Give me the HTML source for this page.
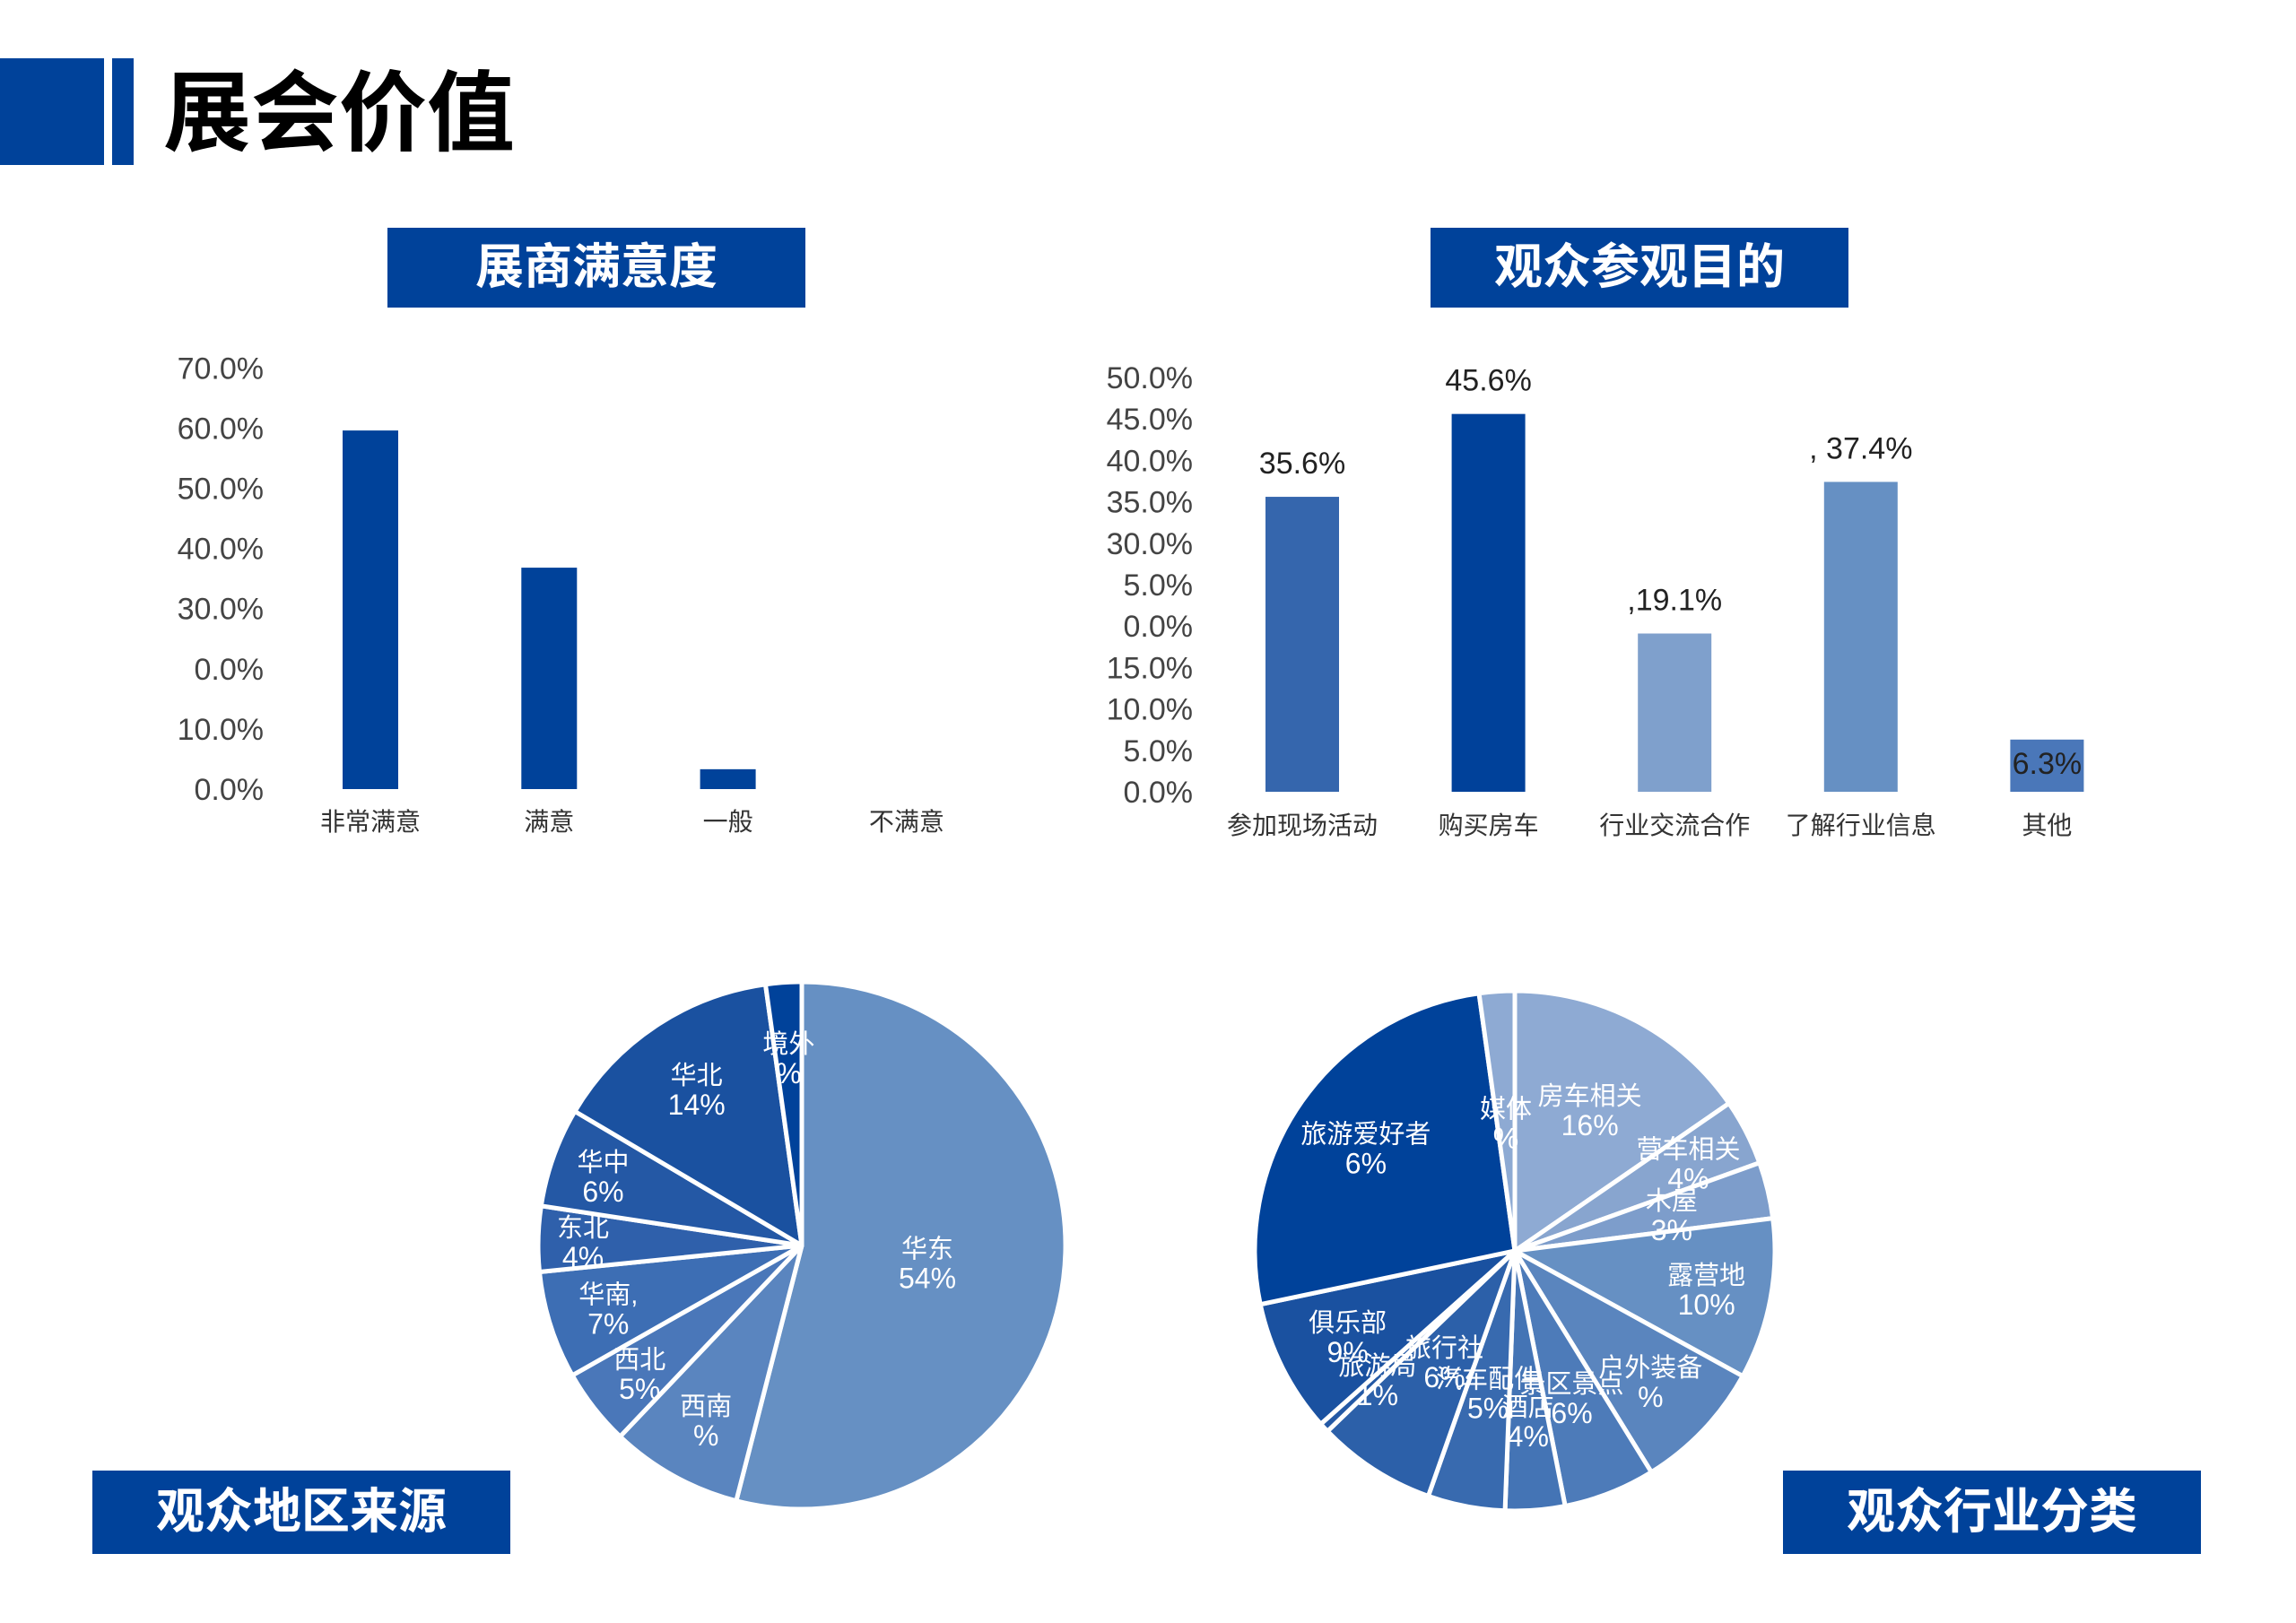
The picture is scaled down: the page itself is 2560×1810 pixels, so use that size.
<!DOCTYPE html>
<html><head><meta charset="utf-8">
<style>
html,body{margin:0;padding:0;background:#fff;}
body{width:2560px;height:1810px;position:relative;overflow:hidden;font-family:"Liberation Sans","Noto Sans CJK SC",sans-serif;}
.box{position:absolute;background:#00429a;color:#fff;font-weight:bold;font-size:54px;text-align:center;font-family:"Liberation Sans","Noto Sans CJK SC",sans-serif;}
svg{position:absolute;left:0;top:0;}
</style></head>
<body>
<div style="position:absolute;left:0;top:65px;width:116px;height:119px;background:#00429a"></div>
<div style="position:absolute;left:125px;top:65px;width:24px;height:119px;background:#00429a"></div>
<div style="position:absolute;left:182px;top:66px;font-size:98px;font-weight:bold;color:#000;line-height:120px;font-family:'Liberation Sans','Noto Sans CJK SC',sans-serif">展会价值</div>
<div class="box" style="left:432px;top:254px;width:466px;height:89px;line-height:89px">展商满意度</div>
<div class="box" style="left:1595px;top:254px;width:466px;height:89px;line-height:89px">观众参观目的</div>
<div class="box" style="left:103px;top:1640px;width:466px;height:93px;line-height:93px">观众地区来源</div>
<div class="box" style="left:1988px;top:1640px;width:466px;height:93px;line-height:93px">观众行业分类</div>
<svg id="chart" width="2560" height="1810"></svg>
<script>
// Chart 1: exhibitor satisfaction
const c1Cats = ["非常满意","满意","一般","不满意"];
const c1Vals = [59.6, 36.8, 3.3, 0];
const c1Ticks = ["0.0%","10.0%","0.0%","30.0%","40.0%","50.0%","60.0%","70.0%"];
const c1TickVals = [0,10,20,30,40,50,60,70];
// Chart 2: visitor purpose
const c2Cats = ["参加现场活动","购买房车","行业交流合作","了解行业信息","其他"];
const c2Vals = [35.6, 45.6, 19.1, 37.4, 6.3];
const c2Labels = ["35.6%","45.6%",",19.1%",", 37.4%","6.3%"];
const c2Ticks = ["0.0%","5.0%","10.0%","15.0%","0.0%","5.0%","30.0%","35.0%","40.0%","45.0%","50.0%"];
const c2TickVals = [0,5,10,15,20,25,30,35,40,45,50];
// Pie 1: region
const p1Names = ["华东","西南","西北","华南,","东北","华中","华北","境外"];
const p1Vals = [54, 8.1, 4.7, 6.6, 4, 6.1, 14.3, 2.2];
const p1Labels = ["54%","%","5%","7%","4%","6%","14%","%"];
// Pie 2: industry
const p2Names = ["房车相关","营车相关","木屋","露营地","户外装备","景区景点","酒店","汽车配件","旅行社","旅游局","俱乐部","旅游爱好者","媒体"];
const p2Vals = [15.4, 4.1, 3.5, 10, 8.2, 5.7, 3.7, 4.8, 7.4, 0.6, 8.3, 26.1, 2.2];
const p2Labels = ["16%","4%","3%","10%","%","6%","4%","5%","6%","1%","9%","6%","%"];

const NS="http://www.w3.org/2000/svg";
const svg=document.getElementById('chart');
function mk(tag,attrs,parent){const e=document.createElementNS(NS,tag);for(const k in attrs)e.setAttribute(k,attrs[k]);(parent||svg).appendChild(e);return e;}
const numFont='"Liberation Sans Narrow","Liberation Sans",sans-serif';
const cjkFont='"Liberation Sans","Noto Sans CJK SC",sans-serif';

// chart1
const y1=v=>880-(v/10)*67.1;
const x1=i=>413+i*199.3;
c1TickVals.forEach((v,i)=>{const t=mk('text',{x:294,y:y1(v)+12,'text-anchor':'end','font-size':34,fill:'#444','font-family':numFont});t.textContent=c1Ticks[i];

});
c1Vals.forEach((v,i)=>{const r=mk('rect',{x:x1(i)-31,y:y1(v),width:62,height:880-y1(v),fill:'#00429a'});


const t=mk('text',{x:x1(i),y:926,'text-anchor':'middle','font-size':28,fill:'#333','font-family':cjkFont});t.textContent=c1Cats[i];

});

// chart2
const y2=v=>883-v*9.24;
const x2=i=>1452+i*207.6;
const c2Colors=['#3566ad','#00419a','#7fa0cc','#6690c3','#4a77b9'];
c2TickVals.forEach((v,i)=>{const t=mk('text',{x:1330,y:y2(v)+12,'text-anchor':'end','font-size':34,fill:'#444','font-family':numFont});t.textContent=c2Ticks[i];

});
c2Vals.forEach((v,i)=>{const r=mk('rect',{x:x2(i)-41,y:y2(v),width:82,height:883-y2(v),fill:c2Colors[i]});


const inside=v<10;
const l=mk('text',{x:x2(i),y:inside?y2(v)+38:y2(v)-26,'text-anchor':'middle','font-size':34,fill:'#222','font-family':numFont});l.textContent=c2Labels[i];


const t=mk('text',{x:x2(i),y:930,'text-anchor':'middle','font-size':28,fill:'#333','font-family':cjkFont});t.textContent=c2Cats[i];

});

function pie(cx,cy,r,vals,names,labels,colors,lr,prefix){
  const tot=vals.reduce((a,b)=>a+b,0);let a0=0;
  vals.forEach((v,i)=>{const a1=a0+v/tot*2*Math.PI;
    const p=(a)=>[cx+r*Math.sin(a),cy-r*Math.cos(a)];
    const [sx,sy]=p(a0),[ex,ey]=p(a1);
    const large=(a1-a0)>Math.PI?1:0;
    const s=mk('path',{d:`M${cx},${cy}L${sx},${sy}A${r},${r} 0 ${large} 1 ${ex},${ey}Z`,fill:colors[i],stroke:'#fff','stroke-width':5,'stroke-linejoin':'round'});
    
    
    a0=a1;});
  a0=0;
  vals.forEach((v,i)=>{const a1=a0+v/tot*2*Math.PI;const m=(a0+a1)/2;const rr=r*lr[i];
    const lx=cx+rr*Math.sin(m),ly=cy-rr*Math.cos(m);
    const t=mk('text',{x:lx,y:ly-4,'text-anchor':'middle','font-size':29,fill:'#fff','font-family':cjkFont});t.textContent=names[i];
    
    
    const t2=mk('text',{x:lx,y:ly+30,'text-anchor':'middle','font-size':32,fill:'#fff','font-family':cjkFont});t2.textContent=labels[i];
    
    
    a0=a1;});
}
pie(894,1389,294,p1Vals,p1Names,p1Labels,
 ['#6690c3','#5a85bf','#4a77b9','#3d6eb4','#2f60ab','#2458a5','#1a51a0','#00429a'],
 [0.48,0.75,0.78,0.77,0.83,0.8,0.72,0.72],'region-pie');
pie(1689,1395,290,p2Vals,p2Names,p2Labels,
 ['#8eaad3','#88a5cf','#7d9dcb','#6690c3','#5a85be','#4d7bb9','#4474b5','#386aaf','#2c60a9','#2459a5','#1a51a0','#00429a','#8eaad3'],
 [0.62,0.75,0.62,0.75,0.72,0.6,0.65,0.55,0.5,0.72,0.72,0.7,0.5],'industry-pie');
</script>
</body></html>
